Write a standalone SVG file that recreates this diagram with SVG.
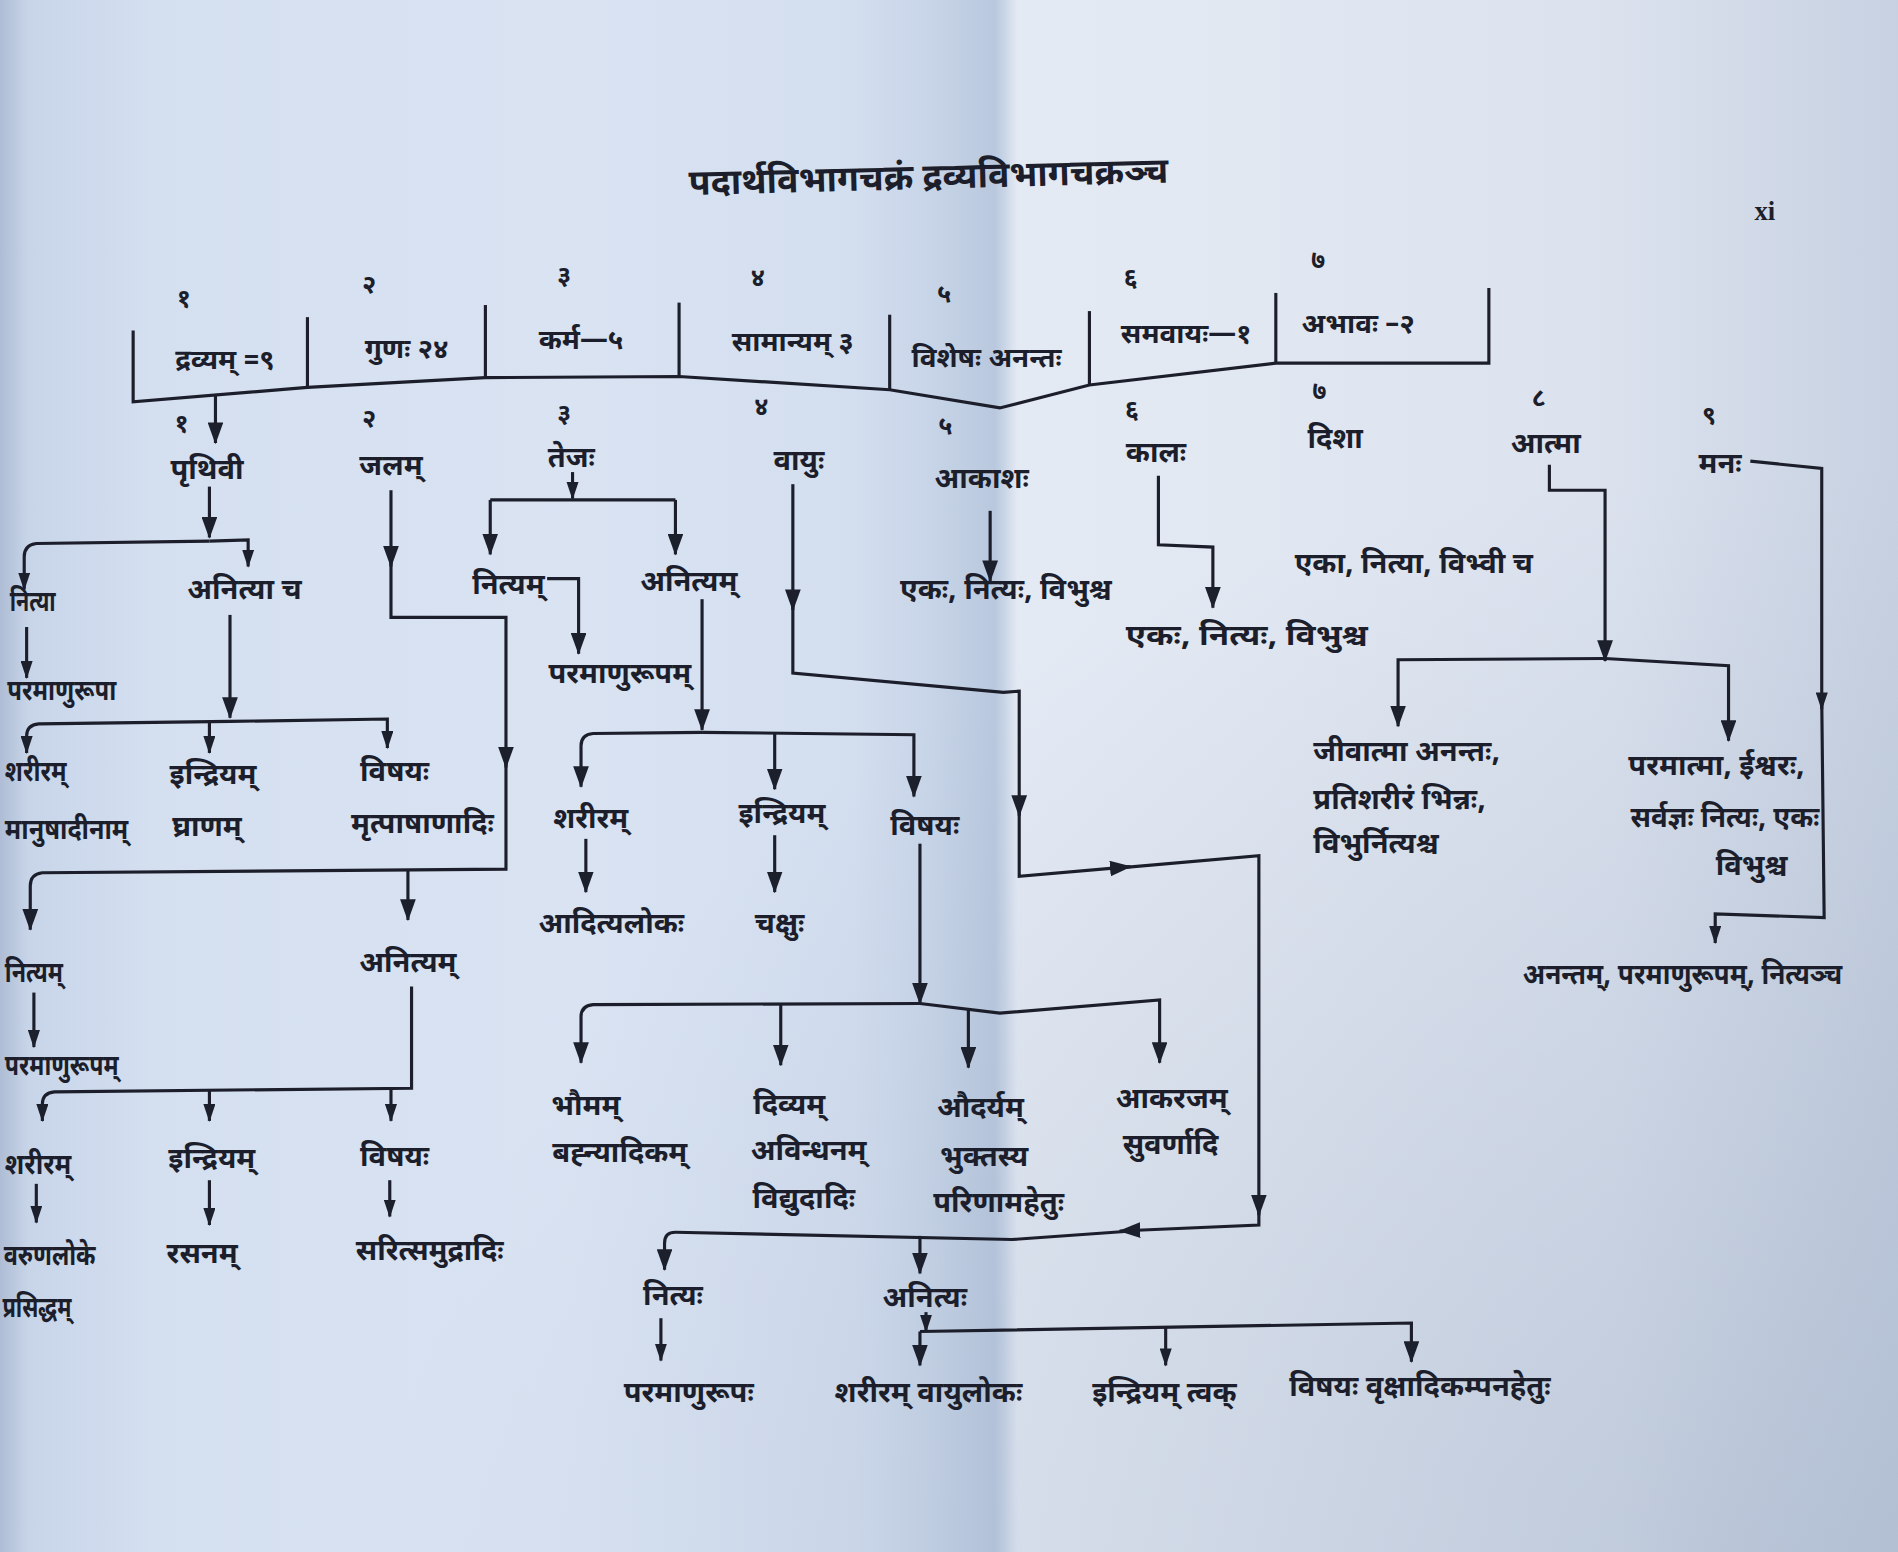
<svg xmlns="http://www.w3.org/2000/svg" width="1898" height="1552" viewBox="0 0 1898 1552">
<defs>
  <linearGradient id="paper" x1="0" y1="0" x2="1" y2="0">
    <stop offset="0" stop-color="#aebdd5"/>
    <stop offset="0.015" stop-color="#c8d5e9"/>
    <stop offset="0.08" stop-color="#d4dff0"/>
    <stop offset="0.3" stop-color="#d9e3f2"/>
    <stop offset="0.45" stop-color="#d3deef"/>
    <stop offset="0.49" stop-color="#c8d5e8"/>
    <stop offset="0.524" stop-color="#b9c8de"/>
    <stop offset="0.529" stop-color="#c8d4e6"/>
    <stop offset="0.536" stop-color="#e4eaf4"/>
    <stop offset="0.65" stop-color="#e2e8f2"/>
    <stop offset="0.85" stop-color="#dbe2ee"/>
    <stop offset="1" stop-color="#c7d1e1"/>
  </linearGradient>
  <radialGradient id="shade" cx="0.95" cy="1.05" r="0.75">
    <stop offset="0" stop-color="#8ea0ba" stop-opacity="0.4"/>
    <stop offset="1" stop-color="#8ea0ba" stop-opacity="0"/>
  </radialGradient>
  <marker id="ah" viewBox="0 0 18 13" refX="17" refY="6.5" markerWidth="18" markerHeight="13" markerUnits="userSpaceOnUse" orient="auto">
    <path d="M0,0 L18,6.5 L0,13 z" fill="#1c202d"/>
  </marker>
  <marker id="as" viewBox="0 0 15 10" refX="14" refY="5" markerWidth="15" markerHeight="10" markerUnits="userSpaceOnUse" orient="auto">
    <path d="M0,0 L15,5 L0,10 z" fill="#1c202d"/>
  </marker>
</defs>
<style>
  text { font-family: "Noto Sans Devanagari", "Noto Serif Devanagari", "Lohit Devanagari", "Noto Sans", sans-serif; font-weight: bold; fill: #1c1f2b; text-anchor: middle; font-size: 24px; }
  .h { font-size: 23px; }
  .n { font-size: 21px; }
  .ttl { font-size: 29.5px; }
  .lft { text-anchor: start; }
  .xi { font-family: "Liberation Serif", serif; font-size: 22px; }
  .c path { fill: none; stroke: #1c1f2b; stroke-width: 2.6; stroke-linejoin: miter; }
  .c .e { marker-end: url(#ah); }
  .c .s { marker-end: url(#as); }
</style>

<rect width="1898" height="1552" fill="url(#paper)"/>
<rect width="1898" height="1552" fill="url(#shade)"/>

<g transform="scale(1.21046)">
  <!-- heading -->
  <g id="title">
    <text class="ttl" x="767" y="156" transform="rotate(-1.5 767 146)">पदार्थविभागचक्रं द्रव्यविभागचक्रञ्च</text>
    <text class="xi" x="1458" y="182">xi</text>
  </g>

  <!-- connectors -->
  <g class="c" id="connectors">
    <!-- category bar -->
    <path d="M110,273 L110,332 L254,320 L401,312 L561,311 L735,322 L826,337 L900,318 L1054,300 L1230,300 L1230,238"/>
    <path d="M254,320 V262"/>
    <path d="M401,312 V252"/>
    <path d="M561,311 V250"/>
    <path d="M735,322 V260"/>
    <path d="M900,318 V257"/>
    <path d="M1054,300 V242"/>
    <path class="e" d="M178,327 L178,366"/>

    <!-- prithivi -->
    <path class="e" d="M173,402 L173,444"/>
    <path class="s" d="M173,447 L30,449 Q20,450 20,460 L20,487"/>
    <path class="s" d="M173,447 L205,446 L205,468"/>
    <path class="s" d="M22,518 L22,560"/>
    <path class="e" d="M190,508 L190,593"/>
    <path class="s" d="M190,596 L32,598 Q22,599 22,608 L22,622"/>
    <path class="s" d="M190,596 L320,594 L320,618"/>
    <path class="s" d="M173,596 L173,622"/>

    <!-- jala -->
    <path class="e" d="M323,405 L323,468"/>
    <path class="e" d="M323,460 L323,510 L418,510 L418,634"/>
    <path class="e" d="M418,625 L418,718 L35,721 Q25,722 25,732 L25,768"/>
    <path class="e" d="M337,719 L337,760"/>
    <path class="s" d="M28,820 L28,865"/>
    <path class="s" d="M340,815 L340,899 L45,902 Q35,903 35,912 L35,926"/>
    <path class="s" d="M173,901 L173,926"/>
    <path class="s" d="M323,900 L323,926"/>
    <path class="s" d="M30,978 L30,1010"/>
    <path class="s" d="M173,975 L173,1012"/>
    <path class="s" d="M322,975 L322,1005"/>

    <!-- tejas -->
    <path class="s" d="M473,390 L473,412"/>
    <path d="M405,413 L558,413"/>
    <path class="e" d="M405,413 L405,458"/>
    <path class="e" d="M558,413 L558,458"/>
    <path class="e" d="M452,478 L478,478 L478,540"/>
    <path class="e" d="M580,495 L580,603"/>
    <path class="e" d="M580,605 L490,606 Q480,607 480,616 L480,650"/>
    <path class="e" d="M580,605 L755,607 L755,658"/>
    <path class="e" d="M640,605 L640,652"/>
    <path class="e" d="M484,693 L484,737"/>
    <path class="e" d="M640,690 L640,737"/>
    <path class="e" d="M760,697 L760,829"/>
    <path class="e" d="M760,829 L490,830 Q480,831 480,840 L480,878"/>
    <path class="e" d="M760,829 L826,837 L958,826 L958,878"/>
    <path class="e" d="M645,830 L645,880"/>
    <path class="e" d="M800,834 L800,882"/>

    <!-- vayu -->
    <path class="e" d="M655,400 L655,504"/>
    <path class="e" d="M655,495 L655,556 L829,572 L842,571 L842,674"/>
    <path class="e" d="M842,665 L842,724 L934,716"/>
    <path class="e" d="M925,717 L1040,707 L1040,1004"/>
    <path class="e" d="M1040,995 L1040,1012 L925,1017"/>
    <path class="e" d="M935,1017 L836,1024 L558,1018 Q549,1018 549,1027 L549,1049"/>
    <path class="e" d="M760,1021 L760,1052"/>
    <path class="s" d="M546,1089 L546,1124"/>
    <path class="s" d="M765,1084 L765,1100"/>
    <path class="e" d="M760,1100 L760,1128"/>
    <path class="e" d="M760,1100 L1166,1093 L1166,1125"/>
    <path class="s" d="M963,1097 L963,1128"/>

    <!-- akasha, kala -->
    <path class="e" d="M818,422 L818,480"/>
    <path class="e" d="M957,393 L957,450 L1002,452 L1002,502"/>

    <!-- atma -->
    <path class="e" d="M1280,384 L1280,405 L1326,405 L1326,546"/>
    <path class="e" d="M1326,544 L1155,545 L1155,600"/>
    <path class="e" d="M1326,544 L1428,550 L1428,612"/>

    <!-- manas -->
    <path class="s" d="M1446,381 L1505,387 L1505,586"/>
    <path class="s" d="M1505,578 L1507,758 L1417,755 L1417,779"/>
  </g>

  <!-- categories -->
  <g id="cat-dravya"><text class="n" x="152" y="254">१</text><text class="h" x="186" y="305">द्रव्यम् =९</text></g>
  <g id="cat-guna"><text class="n" x="305" y="242">२</text><text class="h" x="336" y="296">गुणः २४</text></g>
  <g id="cat-karma"><text class="n" x="466" y="235">३</text><text class="h" x="480" y="288">कर्म—५</text></g>
  <g id="cat-samanya"><text class="n" x="626" y="236">४</text><text class="h" x="655" y="290">सामान्यम् ३</text></g>
  <g id="cat-vishesha"><text class="n" x="780" y="250">५</text><text class="h" x="815" y="303">विशेषः अनन्तः</text></g>
  <g id="cat-samavaya"><text class="n" x="934" y="236">६</text><text class="h" x="980" y="283">समवायः—१</text></g>
  <g id="cat-abhava"><text class="n" x="1089" y="221">७</text><text class="h" x="1122" y="275">अभावः –२</text></g>

  <!-- the nine substances -->
  <g id="prithivi"><text class="n" x="150" y="357">१</text><text x="171" y="396">पृथिवी</text></g>
  <g id="jala"><text class="n" x="305" y="353">२</text><text x="323" y="392">जलम्</text></g>
  <g id="tejas"><text class="n" x="466" y="349">३</text><text x="472" y="386">तेजः</text></g>
  <g id="vayu"><text class="n" x="629" y="343">४</text><text x="660" y="388">वायुः</text></g>
  <g id="akasha"><text class="n" x="781" y="359">५</text><text x="811" y="403">आकाशः</text></g>
  <g id="kala"><text class="n" x="935" y="345">६</text><text x="955" y="382">कालः</text></g>
  <g id="disha"><text class="n" x="1090" y="330">७</text><text x="1103" y="370">दिशा</text></g>
  <g id="atma"><text class="n" x="1271" y="335">८</text><text x="1277" y="374">आत्मा</text></g>
  <g id="manas"><text class="n" x="1412" y="350">९</text><text x="1421" y="391">मनः</text></g>

  <!-- prithivi branch -->
  <g id="p-nitya"><text class="lft" x="8" y="505" textLength="38" lengthAdjust="spacingAndGlyphs">नित्या</text></g>
  <g id="p-anitya"><text x="202" y="495">अनित्या च</text></g>
  <g id="p-paramanu"><text class="lft" x="6" y="578" textLength="90" lengthAdjust="spacingAndGlyphs">परमाणुरूपा</text></g>
  <g id="p-sharira"><text class="lft" x="4" y="645" textLength="51" lengthAdjust="spacingAndGlyphs">शरीरम्</text><text class="lft" x="4" y="693" textLength="102" lengthAdjust="spacingAndGlyphs">मानुषादीनाम्</text></g>
  <g id="p-indriya"><text x="176" y="648">इन्द्रियम्</text><text x="171" y="691">घ्राणम्</text></g>
  <g id="p-vishaya"><text x="326" y="645">विषयः</text><text x="349" y="688">मृत्पाषाणादिः</text></g>

  <!-- jala branch -->
  <g id="j-nitya"><text class="lft" x="4" y="811" textLength="48" lengthAdjust="spacingAndGlyphs">नित्यम्</text></g>
  <g id="j-anitya"><text x="337" y="803">अनित्यम्</text></g>
  <g id="j-paramanu"><text class="lft" x="4" y="888" textLength="94" lengthAdjust="spacingAndGlyphs">परमाणुरूपम्</text></g>
  <g id="j-sharira"><text class="lft" x="4" y="970" textLength="55" lengthAdjust="spacingAndGlyphs">शरीरम्</text></g>
  <g id="j-indriya"><text x="175" y="965">इन्द्रियम्</text></g>
  <g id="j-vishaya"><text x="326" y="963">विषयः</text></g>
  <g id="j-varuna"><text class="lft" x="3" y="1045" textLength="76" lengthAdjust="spacingAndGlyphs">वरुणलोके</text><text class="lft" x="2" y="1088" textLength="57" lengthAdjust="spacingAndGlyphs">प्रसिद्धम्</text></g>
  <g id="j-rasana"><text x="167" y="1043">रसनम्</text></g>
  <g id="j-sarit"><text x="355" y="1041">सरित्समुद्रादिः</text></g>

  <!-- tejas branch -->
  <g id="t-nitya"><text x="420" y="491">नित्यम्</text></g>
  <g id="t-anitya"><text x="569" y="488">अनित्यम्</text></g>
  <g id="t-paramanu"><text x="512" y="564">परमाणुरूपम्</text></g>
  <g id="t-sharira"><text x="488" y="684">शरीरम्</text></g>
  <g id="t-indriya"><text x="646" y="680">इन्द्रियम्</text></g>
  <g id="t-vishaya"><text x="764" y="690">विषयः</text></g>
  <g id="t-aditya"><text x="505" y="771">आदित्यलोकः</text></g>
  <g id="t-chakshu"><text x="644" y="771">चक्षुः</text></g>
  <g id="t-bhauma"><text x="484" y="921">भौमम्</text><text x="512" y="960">बह्न्यादिकम्</text></g>
  <g id="t-divya"><text x="652" y="920">दिव्यम्</text><text x="668" y="958">अविन्धनम्</text><text x="664" y="998">विद्युदादिः</text></g>
  <g id="t-audarya"><text x="810" y="923">औदर्यम्</text><text x="813" y="963">भुक्तस्य</text><text x="825" y="1001">परिणामहेतुः</text></g>
  <g id="t-akaraja"><text x="968" y="915">आकरजम्</text><text x="967" y="953">सुवर्णादि</text></g>

  <!-- vayu branch -->
  <g id="v-nitya"><text x="556" y="1078">नित्यः</text></g>
  <g id="v-anitya"><text x="764" y="1080">अनित्यः</text></g>
  <g id="v-paramanu"><text x="569" y="1158">परमाणुरूपः</text></g>
  <g id="v-sharira"><text x="767" y="1158">शरीरम् वायुलोकः</text></g>
  <g id="v-indriya"><text x="962" y="1158">इन्द्रियम् त्वक्</text></g>
  <g id="v-vishaya"><text x="1173" y="1153">विषयः वृक्षादिकम्पनहेतुः</text></g>

  <!-- akasha, kala, disha -->
  <g id="akasha-attr"><text x="831" y="495">एकः, नित्यः, विभुश्च</text></g>
  <g id="kala-attr"><text x="1030" y="533" textLength="200" lengthAdjust="spacingAndGlyphs">एकः, नित्यः, विभुश्च</text></g>
  <g id="disha-attr"><text x="1168" y="473">एका, नित्या, विभ्वी च</text></g>

  <!-- atma branch -->
  <g id="jivatma"><text class="lft" x="1085" y="629">जीवात्मा अनन्तः,</text><text class="lft" x="1085" y="668">प्रतिशरीरं भिन्नः,</text><text class="lft" x="1085" y="705">विभुर्नित्यश्च</text></g>
  <g id="paramatma"><text x="1418" y="640">परमात्मा, ईश्वरः,</text><text x="1425" y="683" textLength="156" lengthAdjust="spacingAndGlyphs">सर्वज्ञः नित्यः, एकः</text><text x="1447" y="723">विभुश्च</text></g>

  <!-- manas -->
  <g id="manas-attr"><text x="1390" y="813" textLength="264" lengthAdjust="spacingAndGlyphs">अनन्तम्, परमाणुरूपम्, नित्यञ्च</text></g>
</g>
</svg>
